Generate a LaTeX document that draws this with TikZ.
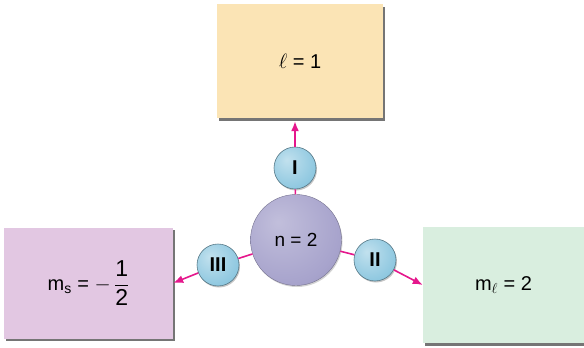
\documentclass[tikz,border=0pt]{standalone}
\usepackage{amsmath}
\usepackage{fontspec}
\setmainfont{Liberation Sans}
\usepackage{tikz}
\usetikzlibrary{arrows.meta,shadows}
\definecolor{qnpeach}{HTML}{FBE4B5}
\definecolor{qnlilac}{HTML}{E2C7E2}
\definecolor{qnmint}{HTML}{D9EEDF}
\definecolor{qnviolet}{HTML}{A7A3CC}
\definecolor{qnsky}{HTML}{8FC8E0}
\definecolor{qnmagenta}{HTML}{E5178C}
\pgfdeclareradialshading{qnviolball}{\pgfpoint{-10bp}{10bp}}{%
  color(0bp)=(qnviolet!70!white); color(30bp)=(qnviolet);
  color(48bp)=(qnviolet!85!black); color(70bp)=(qnviolet!75!black)}
\pgfdeclareradialshading{qnskyball}{\pgfpoint{-10bp}{10bp}}{%
  color(0bp)=(qnsky!55!white); color(30bp)=(qnsky);
  color(48bp)=(qnsky!80!black); color(70bp)=(qnsky!70!black)}

\begin{document}
\begin{tikzpicture}[
    x=1pt,y=-1pt,
    qbox/.style  = {rectangle,inner sep=0pt,align=center,
                    font=\fontsize{20}{24}\selectfont,
                    drop shadow={shadow xshift=1.5pt,shadow yshift=-2.5pt,
                                 fill=black!60,opacity=0.9}},
    core/.style  = {circle,minimum size=91pt,inner sep=0pt,draw=qnviolet!70!black,
                    line width=0.4pt,shading=qnviolball,
                    font=\fontsize{19}{23}\selectfont,
                    drop shadow={shadow xshift=1pt,shadow yshift=-1.5pt,opacity=0.35}},
    sub/.style   = {circle,minimum size=42pt,inner sep=0pt,draw=qnsky!60!black,
                    line width=0.6pt,shading=qnskyball,
                    font=\fontsize{20}{24}\selectfont\bfseries,
                    drop shadow={shadow xshift=1pt,shadow yshift=-1.5pt,opacity=0.45}},
    ln/.style    = {qnmagenta,line width=1.6pt},
    fl/.style    = {-{Latex[length=10pt,width=8pt]},qnmagenta,line width=1.6pt},
  ]

  \useasboundingbox (0,0) rectangle (584,348);

  \node[qbox,fill=qnpeach,minimum width=166pt,minimum height=114pt] (l)  at (300,61)
       {$\ell$ = 1};
  \node[qbox,fill=qnlilac,minimum width=169pt,minimum height=111pt] (ms) at (88.5,283)
       {m\textsubscript{s} = $-$\,$\dfrac{\text{\fontsize{23}{26}\selectfont 1}}
                                     {\text{\fontsize{23}{26}\selectfont 2}}$};
  \node[qbox,fill=qnmint,minimum width=161pt,minimum height=116pt]  (ml) at (503.5,285)
       {m\textsubscript{$\ell$} = 2};

  \node[core] (n)  at (296,240) {n = 2};
  \node[sub]  (s1) at (295,168) {I};
  \node[sub]  (s2) at (375,260) {II};
  \node[sub]  (s3) at (218,265) {III};

  \foreach \b in {s1,s2,s3} \draw[ln] (n) -- (\b);
  \draw[fl,shorten >=3pt] (s1) -- (s1 |- l.south);
  \draw[fl] (s2) -- (ml.west);
  \draw[fl] (s3) -- (ms.east);

\end{tikzpicture}
\end{document}
